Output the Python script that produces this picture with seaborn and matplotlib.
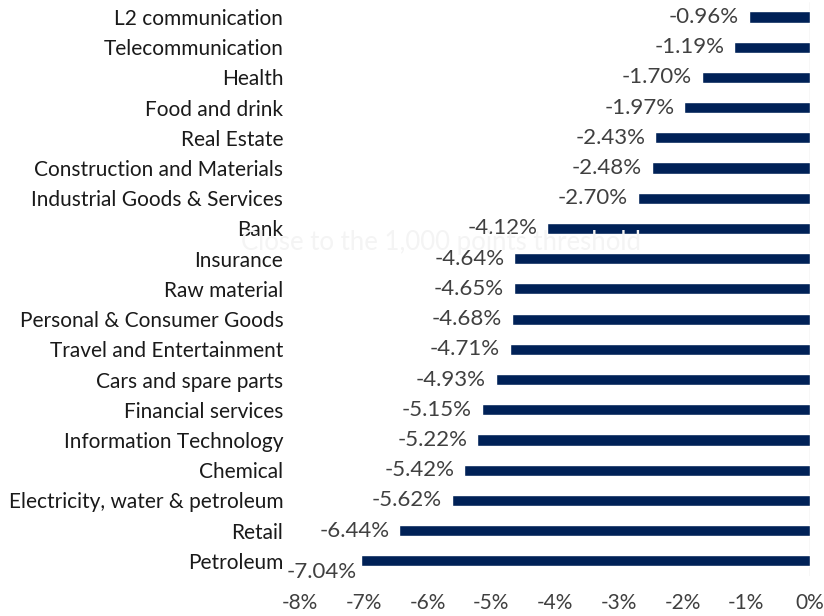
import matplotlib
matplotlib.use("Agg")
import matplotlib.pyplot as plt
import seaborn as sns
import pandas as pd
from matplotlib.ticker import FuncFormatter

# data
sectors = ["L2 communication", "Telecommunication", "Health", "Food and drink",
           "Real Estate", "Construction and Materials", "Industrial Goods & Services",
           "Bank", "Insurance", "Raw material", "Personal & Consumer Goods",
           "Travel and Entertainment", "Cars and spare parts", "Financial services",
           "Information Technology", "Chemical", "Electricity, water & petroleum",
           "Retail", "Petroleum"]
changes = [-0.96, -1.19, -1.70, -1.97, -2.43, -2.48, -2.70, -4.12, -4.64, -4.65,
           -4.68, -4.71, -4.93, -5.15, -5.22, -5.42, -5.62, -6.44, -7.04]
x_ticks = [-8, -7, -6, -5, -4, -3, -2, -1, 0]

df = pd.DataFrame({"Sector": sectors, "Change": changes})

sns.set_style("white")
plt.rcParams['font.family'] = ['Lato', 'DejaVu Sans']

fig = plt.figure(figsize=(8.24, 6.16), dpi=100)
ax = fig.add_axes([0.364, 0.065, 0.619, 0.932])

# faint watermark behind the bars
fig.text(0.535, 0.607, "Close to the 1,000 points threshold", fontsize=18.5,
         color="#f4f4f4", ha="center", va="center", zorder=0)

sns.barplot(data=df, x="Change", y="Sector", orient="h", color="#002157",
            width=0.37, saturation=1, ax=ax, zorder=2)
ax.patch.set_alpha(0)

ax.set_xlim(-8, 0)
ax.set_xticks(x_ticks)
ax.xaxis.set_major_formatter(FuncFormatter(lambda v, p: f"{v:.0f}%"))
ax.set_xlabel("")
ax.set_ylabel("")
ax.tick_params(axis="x", labelsize=15, colors="#404040", length=0, pad=12)
ax.tick_params(axis="y", labelsize=15, colors="#1a1a1a", length=0, pad=12)
for s in ax.spines.values():
    s.set_visible(False)
ax.axvline(0, color="#d9d9d9", lw=1, zorder=1)

# value labels (last one sits below the bar end)
for i, v in enumerate(changes):
    off = (-3, -8) if i == len(changes) - 1 else (-7, 0)
    ax.annotate(f"{v:.2f}%", (v, i), xytext=off, textcoords="offset points",
                ha="right", va="center", fontsize=16, color="#404040")

fig.savefig("out.png", dpi=100)
